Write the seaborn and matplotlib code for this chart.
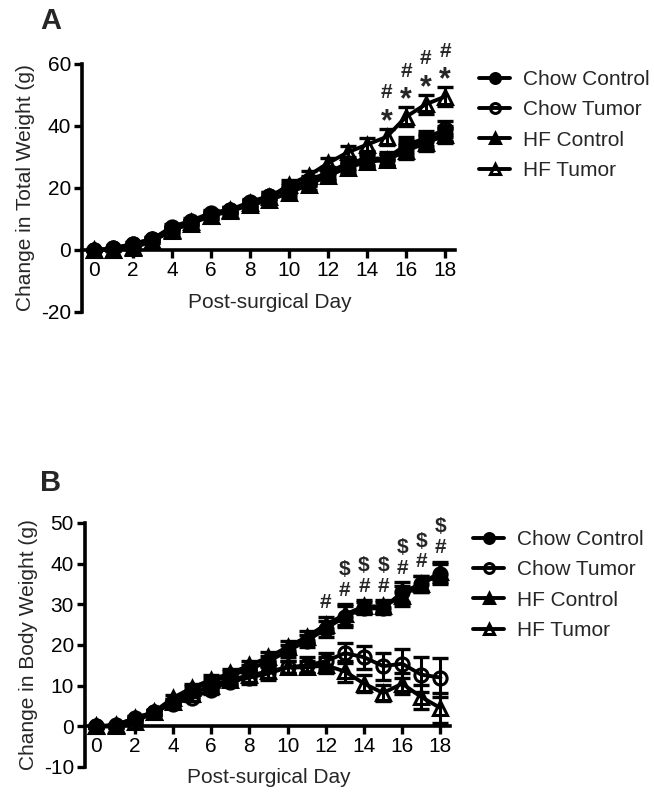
import numpy as np
import pandas as pd
import matplotlib
matplotlib.use("Agg")
import matplotlib.pyplot as plt
import seaborn as sns

sns.set_theme(style="white")
plt.rcParams['font.family'] = ['Liberation Sans', 'DejaVu Sans']
plt.rcParams['axes.unicode_minus'] = False

days = list(range(19))
groups = ["Chow Control", "Chow Tumor", "HF Control", "HF Tumor"]

# Panel A: change in total weight (g)
A_chow_control = [0, 0.5, 2, 3.5, 7, 9, 11.5, 13, 15, 17.5, 19.5, 22, 24.5, 27.5, 29, 29, 33, 35, 37.5]
A_chow_tumor   = [0, 0.5, 2, 3.5, 7.5, 9.5, 12, 13, 15.5, 17.5, 20, 22.5, 25, 28, 29.5, 29.5, 34, 36, 39]
A_hf_control   = [0, 0, 1, 3, 6, 9, 11, 12.5, 14.5, 16, 18.5, 21, 24, 26.5, 28.5, 29, 32, 34.5, 37]
A_hf_tumor     = [0, 0, 0.5, 3, 6.5, 8.5, 11, 13, 15, 17, 21, 24, 28, 31.5, 34, 36.5, 43, 47, 49.5]
A_chow_control_err = [0.3, 0.3, 0.5, 0.6, 0.8, 0.8, 1, 1, 1, 1.2, 1.5, 1.5, 1.8, 2, 2, 2, 2.5, 2.5, 2.5]
A_chow_tumor_err   = [0.3, 0.3, 0.5, 0.6, 0.8, 0.8, 1, 1, 1, 1.2, 1.5, 1.5, 1.8, 2, 2, 2, 2.5, 2.5, 2.5]
A_hf_control_err   = [0.3, 0.3, 0.5, 0.6, 0.8, 0.8, 1, 1, 1, 1.2, 1.5, 1.5, 1.8, 2, 2, 2, 2.5, 2.5, 2.5]
A_hf_tumor_err     = [0.3, 0.3, 0.5, 0.6, 0.8, 0.8, 1, 1, 1, 1.2, 1.5, 1.5, 1.8, 2, 2, 2.5, 3, 3, 3]

# Panel B: change in body weight (g)
B_chow_control = [0, 0.3, 2, 3.5, 6, 9, 11, 12.5, 14, 16, 18.5, 21, 24, 27, 29, 29, 33, 35, 37.5]
B_chow_tumor   = [0, 0, 1.5, 3.5, 5.5, 7, 9, 11, 12, 13, 14.5, 15, 16, 18, 17, 14.8, 15.4, 12.7, 12]
B_hf_control   = [0, 0.3, 2, 3.5, 7, 9.5, 11.5, 13, 15, 17, 19.5, 22, 25, 27.5, 29.5, 29.5, 32, 35, 38]
B_hf_tumor     = [0, 0, 1, 3.5, 6, 8, 10, 11.5, 12.5, 13.5, 14.5, 14.5, 15, 13.5, 10.5, 8.2, 10.5, 7.2, 4.5]
B_chow_control_err = [0.3, 0.3, 0.5, 0.6, 0.8, 0.8, 1, 1, 1, 1.2, 1.5, 1.5, 2, 2.5, 1.5, 1.5, 2.5, 2, 2.5]
B_chow_tumor_err   = [0.3, 0.3, 0.5, 0.6, 0.8, 0.8, 1, 1, 1.5, 1.5, 1.5, 2, 2, 2.5, 2.8, 3.3, 3.5, 4.3, 4.7]
B_hf_control_err   = [0.3, 0.3, 0.5, 0.6, 0.8, 0.8, 1, 1, 1, 1.2, 1.5, 1.5, 2, 2.5, 1.5, 1.5, 2.5, 2, 2.5]
B_hf_tumor_err     = [0.3, 0.3, 0.5, 0.6, 0.8, 0.8, 1, 1, 1.5, 1.5, 1.5, 1.5, 2, 2.5, 2, 2, 2.5, 3, 3.7]

A_means = [A_chow_control, A_chow_tumor, A_hf_control, A_hf_tumor]
A_errs = [A_chow_control_err, A_chow_tumor_err, A_hf_control_err, A_hf_tumor_err]
B_means = [B_chow_control, B_chow_tumor, B_hf_control, B_hf_tumor]
B_errs = [B_chow_control_err, B_chow_tumor_err, B_hf_control_err, B_hf_tumor_err]

# significance annotations: day -> symbols (bottom to top)
A_sig_days = [15, 16, 17, 18]
A_sig_syms = ["*", "#"]
B_sig_days = [12, 13, 14, 15, 16, 17, 18]
B_sig_syms = [["#"], ["#", "$"], ["#", "$"], ["#", "$"], ["#", "$"], ["#", "$"], ["#", "$"]]

markers = {"Chow Control": "o", "Chow Tumor": "o", "HF Control": "^", "HF Tumor": "^"}
faces = {"Chow Control": "black", "Chow Tumor": "none", "HF Control": "black", "HF Tumor": "none"}

fig = plt.figure(figsize=(6.54, 7.96), dpi=100)
W, H = 654, 796


def px_axes(x0, x1, ytop, ybot):
    return fig.add_axes([x0 / W, 1 - ybot / H, (x1 - x0) / W, (ybot - ytop) / H])


axA = px_axes(82, 455, 64, 312)
axB = px_axes(85, 450, 523, 767)


def draw(ax, means, errs, ylim, yticks, ylabel, xlabel_y):
    for g, m, e in zip(groups, means, errs):
        df = pd.DataFrame({"day": days, "value": m})
        ax.errorbar(days, m, yerr=e, fmt="none", ecolor="black", elinewidth=2.2,
                    capsize=6, capthick=2.4, zorder=2)
        sns.lineplot(data=df, x="day", y="value", ax=ax, color="black", lw=2.8,
                     marker=markers[g], markersize=9.5 if markers[g] == "o" else 10.5,
                     markerfacecolor=faces[g], markeredgecolor="black", mew=2.2,
                     label=g, zorder=3, legend=False)
    ax.set_xlim(-0.6, 18.5)
    ax.set_ylim(*ylim)
    ax.set_yticks(yticks)
    ax.set_xticks(range(0, 19, 2))
    for s in ["top", "right"]:
        ax.spines[s].set_visible(False)
    ax.spines["bottom"].set_position(("data", 0))
    for s in ["left", "bottom"]:
        ax.spines[s].set_linewidth(2.6)
        ax.spines[s].set_color("black")
    ax.tick_params(axis="both", direction="out", length=6, width=2.4, labelsize=15,
                   colors="black", pad=2, left=True, bottom=True)
    ax.set_ylabel(ylabel, fontsize=15, labelpad=4)
    ax.set_xlabel("Post-surgical Day", fontsize=15)
    ax.xaxis.set_label_coords(0.504, xlabel_y)
    ax.grid(False)


draw(axA, A_means, A_errs, (-20, 60), [-20, 0, 20, 40, 60], "Change in Total Weight (g)", 0.075)
draw(axB, B_means, B_errs, (-10, 50), [-10, 0, 10, 20, 30, 40, 50], "Change in Body Weight (g)", -0.005)

# annotations
for d in A_sig_days:
    top = max(m[d] + e[d] for m, e in zip(A_means, A_errs))
    axA.annotate("*", (d, top), xytext=(0, 5), textcoords="offset points",
                 ha="center", va="center", fontsize=22, fontweight="bold")
    axA.annotate("#", (d, top), xytext=(0, 26), textcoords="offset points",
                 ha="center", va="center", fontsize=15, fontweight="bold")
for d, syms in zip(B_sig_days, B_sig_syms):
    top = max(m[d] + e[d] for m, e in zip(B_means, B_errs))
    for k, s in enumerate(syms):
        axB.annotate(s, (d, top), xytext=(0, 10 + 15 * k), textcoords="offset points",
                     ha="center", va="center", fontsize=15, fontweight="bold")

# legends
for ax, xh, yc in [(axA, 479, 125), (axB, 473, 585)]:
    h, l = ax.get_legend_handles_labels()
    ax.legend(h, l, loc="center left", bbox_to_anchor=(xh / W, 1 - yc / H),
              bbox_transform=fig.transFigure, frameon=False, fontsize=15,
              borderaxespad=0, borderpad=0, handlelength=1.5, handletextpad=0.6,
              labelspacing=0.55, markerscale=0.75)

fig.text(40 / W, 1 - 21 / H, "A", fontsize=21, fontweight="bold", va="center", ha="left")
fig.text(40 / W, 1 - 483 / H, "B", fontsize=21, fontweight="bold", va="center", ha="left")

fig.savefig("out.png", dpi=100, facecolor="white")
